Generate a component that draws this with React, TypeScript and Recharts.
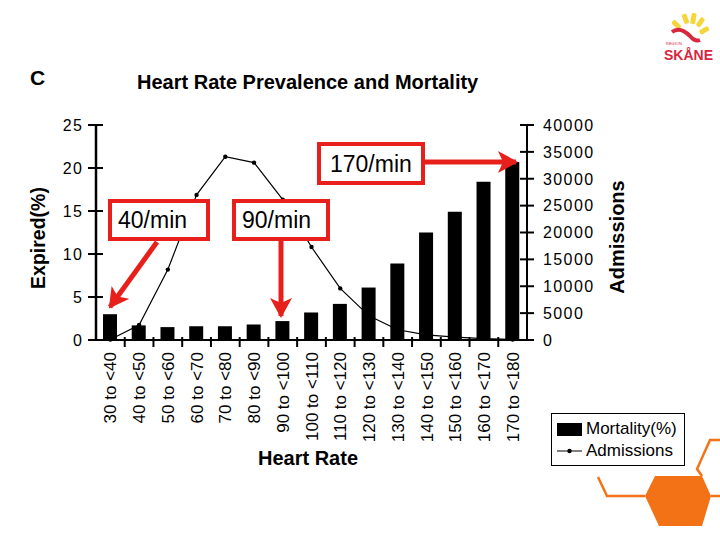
import React from "react";
import {
  ComposedChart,
  Bar,
  Line,
  XAxis,
  YAxis,
  Legend,
} from "recharts";

const categories = [
  "30 to <40",
  "40 to <50",
  "50 to <60",
  "60 to <70",
  "70 to <80",
  "80 to <90",
  "90 to <100",
  "100 to <110",
  "110 to <120",
  "120 to <130",
  "130 to <140",
  "140 to <150",
  "150 to <160",
  "160 to <170",
  "170 to <180",
];
const mortality = [3.0, 1.7, 1.5, 1.6, 1.6, 1.8, 2.2, 3.2, 4.2, 6.1, 8.9, 12.5, 14.9, 18.4, 20.7];
const admissions = [100, 2800, 13100, 27000, 34100, 33000, 26100, 17300, 9600, 4500, 1900, 950, 550, 250, 100];
const leftTicks = [0, 5, 10, 15, 20, 25];
const rightTicks = [0, 5000, 10000, 15000, 20000, 25000, 30000, 35000, 40000];

const data = categories.map((range, i) => ({
  range,
  mortality: mortality[i],
  admissions: admissions[i],
}));

const FONT = "'Liberation Sans', Arial, sans-serif";
const RED = "#e8201c";
const ORANGE = "#f47216";
const PLOT_W = 431;
const BAND = PLOT_W / categories.length;

function LeftTick(props: any) {
  const { x, y, payload } = props;
  const axisX = x + 13;
  return (
    <g>
      <line x1={axisX - 8} x2={axisX + 7} y1={y} y2={y} stroke="#000" strokeWidth={2} />
      <text x={x} y={y} dy="0.36em" textAnchor="end" fontSize={16} letterSpacing={1.2} fontFamily={FONT} fill="#000">
        {payload.value}
      </text>
    </g>
  );
}

function RightTick(props: any) {
  const { x, y, payload } = props;
  const axisX = x - 16;
  return (
    <g>
      <line x1={axisX - 7} x2={axisX + 7} y1={y} y2={y} stroke="#000" strokeWidth={2} />
      <text x={x} y={y} dy="0.36em" textAnchor="start" fontSize={16} letterSpacing={1.4} fontFamily={FONT} fill="#000">
        {payload.value}
      </text>
    </g>
  );
}

function BottomTick(props: any) {
  const { x, y, payload, index } = props;
  const axisY = y - 12;
  const half = payload.offset || BAND / 2;
  return (
    <g>
      {index > 0 && (
        <line x1={x - half} x2={x - half} y1={axisY - 3} y2={axisY + 7} stroke="#000" strokeWidth={2} />
      )}
      <text
        transform={`translate(${x},${y}) rotate(-90)`}
        dy="0.36em"
        textAnchor="end"
        fontSize={17}
        fontFamily={FONT}
        fill="#000"
      >
        {payload.value}
      </text>
    </g>
  );
}

function LegendBox() {
  return (
    <div
      style={{
        border: "1.5px solid #000",
        background: "#fff",
        width: 134,
        height: 53,
        boxSizing: "border-box",
        padding: "4px 0 0 5px",
        fontFamily: FONT,
        fontSize: 17,
        color: "#000",
        lineHeight: "22px",
      }}
    >
      <div style={{ display: "flex", alignItems: "center" }}>
        <span style={{ display: "inline-block", width: 25, height: 13, background: "#000", marginRight: 4 }} />
        Mortality(%)
      </div>
      <div style={{ display: "flex", alignItems: "center" }}>
        <svg width={25} height={10} style={{ marginRight: 4 }}>
          <line x1={0} x2={25} y1={5} y2={5} stroke="#000" strokeWidth={1} />
          <circle cx={12.5} cy={5} r={2.2} fill="#000" />
        </svg>
        Admissions
      </div>
    </div>
  );
}

function Overlay() {
  return (
    <svg
      width={720}
      height={540}
      style={{ position: "absolute", left: 0, top: 0, pointerEvents: "none" }}
    >
      <defs>
        <marker id="head" markerUnits="userSpaceOnUse" markerWidth={20} markerHeight={22} refX={18} refY={11} orient="auto" viewBox="0 0 20 22">
          <path d="M0,0 L20,11 L0,22 L5,11 z" fill={RED} />
        </marker>
      </defs>
      <text x={30} y={85} fontSize={21} fontWeight="bold" fontFamily={FONT} fill="#000">C</text>
      <text x={137} y={89} fontSize={20} fontWeight="bold" fontFamily={FONT} fill="#000">
        Heart Rate Prevalence and Mortality
      </text>

      {/* annotations */}
      <rect x={110} y={201} width={98} height={38} fill="#fff" stroke={RED} strokeWidth={4} />
      <text x={118} y={220} dy="0.36em" fontSize={23} fontFamily={FONT} fill="#000">40/min</text>
      <line x1={157} y1={242} x2={110} y2={307} stroke={RED} strokeWidth={5} markerEnd="url(#head)" />

      <rect x={234} y={201} width={94} height={38} fill="#fff" stroke={RED} strokeWidth={4} />
      <text x={242} y={220} dy="0.36em" fontSize={23} fontFamily={FONT} fill="#000">90/min</text>
      <line x1={281} y1={241} x2={281} y2={316} stroke={RED} strokeWidth={5} markerEnd="url(#head)" />

      <rect x={319} y={144} width={104} height={39} fill="#fff" stroke={RED} strokeWidth={4} />
      <text x={330} y={163.5} dy="0.36em" fontSize={23} fontFamily={FONT} fill="#000">170/min</text>
      <line x1={425} y1={162} x2={516} y2={162} stroke={RED} strokeWidth={5} markerEnd="url(#head)" />

      {/* logo */}
      <g>
        <rect x={683} y={14} width={5} height={10} rx={1.5} fill="#f5d63a" transform="rotate(-20 685 19)" />
        <rect x={691} y={13} width={5} height={11} rx={1.5} fill="#f5d63a" transform="rotate(10 693 18)" />
        <rect x={698} y={17} width={5} height={10} rx={1.5} fill="#f5d63a" transform="rotate(35 700 22)" />
        <rect x={702} y={25} width={5} height={10} rx={1.5} fill="#f5d63a" transform="rotate(60 704 30)" />
        <rect x={674} y={20} width={5} height={10} rx={1.5} fill="#f5d63a" transform="rotate(-45 676 25)" />
        <path d="M672,32 Q680,26 690,36 Q695,42 700,40" stroke="#d7263d" strokeWidth={4} fill="none" />
        <text x={666} y={45} fontSize={4} fontFamily={FONT} fill="#d7263d">REGION</text>
        <text x={664} y={60} fontSize={14} fontWeight="bold" fontFamily={FONT} fill="#d7263d">SKÅNE</text>
      </g>

      {/* orange decoration */}
      <polygon points="645,496 655,476 702,476 711,496 702,526 659,526" fill={ORANGE} />
      <polyline points="598,477 607,496 645,496" stroke={ORANGE} strokeWidth={2.5} fill="none" />
      <line x1={711} y1={496} x2={720} y2={496} stroke={ORANGE} strokeWidth={2.5} />
      <polyline points="720,440 710,440 697,469 702,476" stroke={ORANGE} strokeWidth={2.5} fill="none" />
    </svg>
  );
}

export default function App() {
  return (
    <div
      style={{
        position: "fixed",
        left: 0,
        top: 0,
        width: 720,
        height: 540,
        background: "#fff",
        fontFamily: FONT,
      }}
    >
      <ComposedChart
        width={720}
        height={540}
        data={data}
        margin={{ top: 125, right: 93, bottom: 0, left: 0 }}
      >
        <XAxis
          dataKey="range"
          height={200}
          interval={0}
          tickLine={false}
          tickSize={6}
          tickMargin={6}
          tick={<BottomTick />}
          axisLine={{ stroke: "#000", strokeWidth: 2 }}
          label={(p: any) => (
            <text
              x={308}
              y={458}
              dy="0.36em"
              textAnchor="middle"
              fontSize={20}
              fontWeight="bold"
              fontFamily={FONT}
              fill="#000"
            >
              Heart Rate
            </text>
          )}
        />
        <YAxis
          yAxisId="left"
          width={96}
          domain={[0, 25]}
          ticks={leftTicks}
          tickLine={false}
          tickSize={7}
          tickMargin={6}
          tick={<LeftTick />}
          axisLine={{ stroke: "#000", strokeWidth: 2.5 }}
          label={() => (
            <text
              transform="translate(38,238) rotate(-90)"
              dy="0.36em"
              textAnchor="middle"
              fontSize={19.5}
              fontWeight="bold"
              fontFamily={FONT}
              fill="#000"
            >
              Expired(%)
            </text>
          )}
        />
        <YAxis
          yAxisId="right"
          orientation="right"
          width={100}
          domain={[0, 40000]}
          ticks={rightTicks}
          tickLine={false}
          tickSize={7}
          tickMargin={9}
          tick={<RightTick />}
          axisLine={{ stroke: "#000", strokeWidth: 2 }}
          label={() => (
            <text
              transform="translate(617,237) rotate(-90)"
              dy="0.36em"
              textAnchor="middle"
              fontSize={20}
              fontWeight="bold"
              fontFamily={FONT}
              fill="#000"
            >
              Admissions
            </text>
          )}
        />
        <Bar
          yAxisId="left"
          dataKey="mortality"
          name="Mortality(%)"
          fill="#000"
          barSize={14}
          isAnimationActive={false}
        />
        <Line
          yAxisId="right"
          type="linear"
          dataKey="admissions"
          name="Admissions"
          stroke="#000"
          strokeWidth={1.2}
          dot={{ r: 2.2, fill: "#000", stroke: "#000", strokeWidth: 0 }}
          isAnimationActive={false}
        />
        <Legend
          layout="vertical"
          align="center"
          verticalAlign="middle"
          wrapperStyle={{ left: 551, top: 413, width: 134, height: 53 }}
          content={() => <LegendBox />}
        />
      </ComposedChart>
      <Overlay />
    </div>
  );
}
